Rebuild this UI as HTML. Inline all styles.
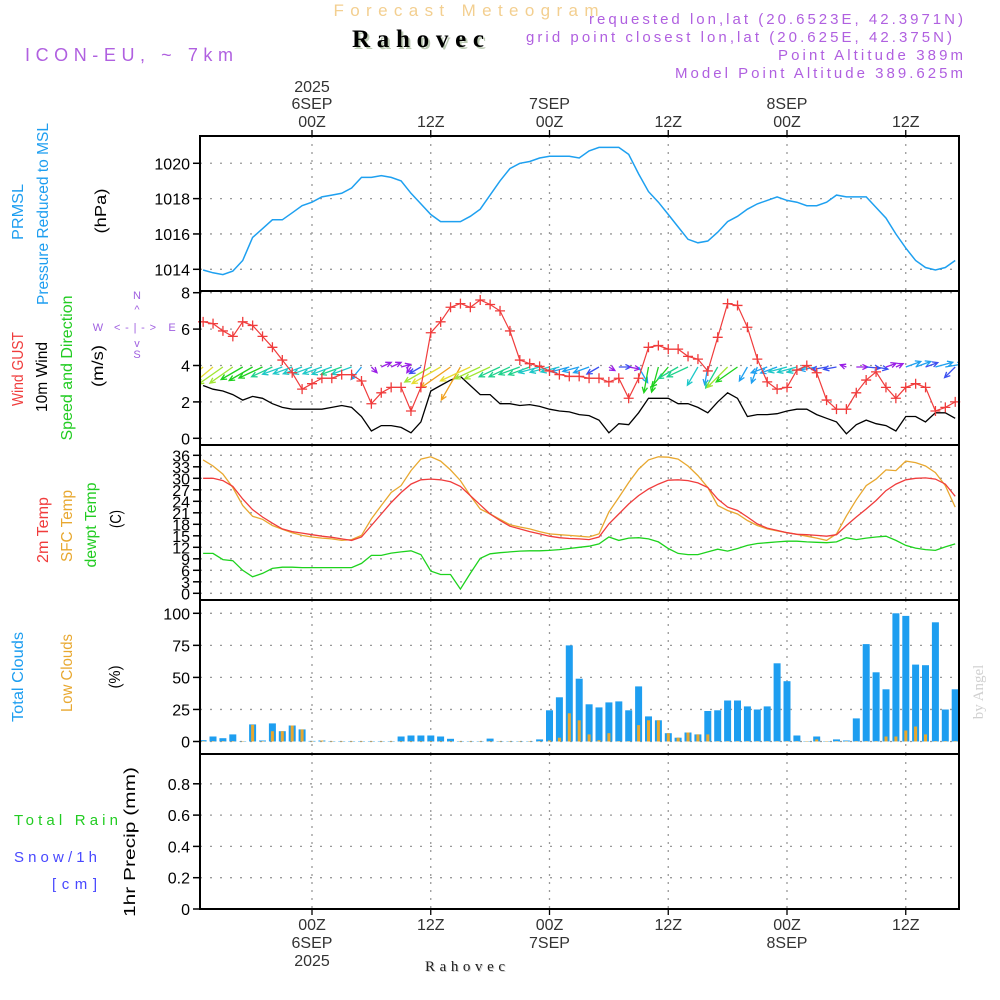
<!DOCTYPE html>
<html><head><meta charset="utf-8"><title>Meteogram Rahovec</title>
<style>
html,body{margin:0;padding:0;background:#fff;}
svg{display:block;font-family:"Liberation Sans",sans-serif;}
</style></head>
<body>
<svg id="chart" width="1000" height="1000" viewBox="0 0 1000 1000" xmlns="http://www.w3.org/2000/svg">
<rect x="0" y="0" width="1000" height="1000" fill="#fff"/>
<text x="466" y="16" text-anchor="middle" font-size="17" fill="#f3cf90" textLength="265" lengthAdjust="spacing">Forecast Meteogram</text>
<text x="420" y="49" text-anchor="middle" font-size="25" font-weight="bold" font-family="Liberation Serif, serif" fill="#bccab4" textLength="132" lengthAdjust="spacing">Rahovec</text>
<text x="418" y="47" text-anchor="middle" font-size="25" font-weight="bold" font-family="Liberation Serif, serif" fill="#000" textLength="132" lengthAdjust="spacing">Rahovec</text>
<text x="25" y="61" font-size="18" fill="#b060e0" textLength="208" lengthAdjust="spacing">ICON-EU, ~ 7km</text>
<g font-size="15" fill="#b060e0" text-anchor="end">
<text x="963" y="24" textLength="374" lengthAdjust="spacing">requested lon,lat (20.6523E, 42.3971N)</text>
<text x="952" y="42" textLength="426" lengthAdjust="spacing">grid point closest lon,lat (20.625E, 42.375N)</text>
<text x="963" y="60" textLength="185" lengthAdjust="spacing">Point Altitude 389m</text>
<text x="963" y="78" textLength="288" lengthAdjust="spacing">Model Point Altitude 389.625m</text>
</g>
<g font-size="16">
<text transform="translate(23,212) rotate(-90)" text-anchor="middle" fill="#1e9ef0" textLength="56" lengthAdjust="spacingAndGlyphs">PRMSL</text>
<text transform="translate(48,214) rotate(-90)" text-anchor="middle" fill="#1e9ef0" textLength="182" lengthAdjust="spacingAndGlyphs">Pressure Reduced to MSL</text>
<text transform="translate(106,211) rotate(-90)" text-anchor="middle" fill="#000" textLength="45" lengthAdjust="spacingAndGlyphs">(hPa)</text>
<text transform="translate(23,369) rotate(-90)" text-anchor="middle" fill="#f03c3c" textLength="74" lengthAdjust="spacingAndGlyphs">Wind GUST</text>
<text transform="translate(47,377) rotate(-90)" text-anchor="middle" fill="#000" textLength="70" lengthAdjust="spacingAndGlyphs">10m Wind</text>
<text transform="translate(72,368) rotate(-90)" text-anchor="middle" fill="#22cc22" textLength="145" lengthAdjust="spacingAndGlyphs">Speed and Direction</text>
<text transform="translate(103,366) rotate(-90)" text-anchor="middle" fill="#000" textLength="42" lengthAdjust="spacingAndGlyphs">(m/s)</text>
<text transform="translate(48,530) rotate(-90)" text-anchor="middle" fill="#f03c3c" textLength="66" lengthAdjust="spacingAndGlyphs">2m Temp</text>
<text transform="translate(72,526) rotate(-90)" text-anchor="middle" fill="#e8a830" textLength="72" lengthAdjust="spacingAndGlyphs">SFC Temp</text>
<text transform="translate(96,525) rotate(-90)" text-anchor="middle" fill="#22cc22" textLength="85" lengthAdjust="spacingAndGlyphs">dewpt Temp</text>
<text transform="translate(121,519) rotate(-90)" text-anchor="middle" fill="#000" textLength="18" lengthAdjust="spacingAndGlyphs">(C)</text>
<text transform="translate(23,677) rotate(-90)" text-anchor="middle" fill="#1e9ef0" textLength="90" lengthAdjust="spacingAndGlyphs">Total Clouds</text>
<text transform="translate(72,673) rotate(-90)" text-anchor="middle" fill="#e8a830" textLength="78" lengthAdjust="spacingAndGlyphs">Low Clouds</text>
<text transform="translate(120,677) rotate(-90)" text-anchor="middle" fill="#000" textLength="23" lengthAdjust="spacingAndGlyphs">(%)</text>
<text transform="translate(135,842) rotate(-90)" text-anchor="middle" fill="#000" font-size="16" textLength="150" lengthAdjust="spacingAndGlyphs">1hr Precip (mm)</text>
<text x="14" y="825" fill="#22cc22" font-size="15" textLength="104" lengthAdjust="spacing">Total  Rain</text>
<text x="14" y="862" fill="#4848ff" font-size="15" textLength="83" lengthAdjust="spacing">Snow/1h</text>
<text x="52" y="889" fill="#4848ff" font-size="15" textLength="45" lengthAdjust="spacing">[cm]</text>
</g>
<g fill="#a060e0" font-size="11" text-anchor="middle">
<text x="137" y="299">N</text>
<text x="137" y="358">S</text>
<text x="98" y="331">W</text>
<text x="172" y="331">E</text>
<text x="135" y="331" textLength="42" lengthAdjust="spacing">&lt;-|-&gt;</text>
<text x="137" y="313">^</text>
<text x="137" y="347">v</text>
</g>
<text transform="translate(983,692) rotate(-90)" text-anchor="middle" font-family="Liberation Serif, serif" font-size="15" fill="#d0d0d0">by Angel</text>
<text x="466" y="972" text-anchor="middle" font-family="Liberation Serif, serif" font-size="15" fill="#ccc" textLength="80" lengthAdjust="spacing">Rahovec</text>
<text x="465" y="971" text-anchor="middle" font-family="Liberation Serif, serif" font-size="15" fill="#222" textLength="80" lengthAdjust="spacing">Rahovec</text>
<g id="plot"></g>
</svg>
<script>
// ---- data (hourly, starting at hour -11 relative to 00Z 6SEP) ----
const startHour = -11;
const pressure = [1013.96,1013.8,1013.7,1013.9,1014.5,1015.8,1016.3,1016.8,1016.8,1017.2,
1017.6,1017.8,1018.1,1018.2,1018.3,1018.6,1019.2,1019.2,1019.3,1019.2,
1019.0,1018.3,1017.7,1017.1,1016.7,1016.7,1016.7,1017.0,1017.4,1018.2,
1019.0,1019.7,1020.0,1020.1,1020.3,1020.4,1020.4,1020.4,1020.3,
1020.7,1020.9,1020.9,1020.9,1020.5,1019.4,1018.4,1017.8,1017.1,1016.4,
1015.7,1015.5,1015.6,1016.1,1016.7,1017.0,1017.4,1017.7,1017.9,1018.1,
1017.9,1017.8,1017.6,1017.6,1017.8,1018.2,1018.1,1018.1,1018.1,1017.5,
1016.9,1016.0,1015.2,1014.5,1014.1,1013.96,1014.1,1014.5];
const windSpeed = [2.9,2.7,2.6,2.4,2.1,2.3,2.2,1.9,1.7,1.6,
1.6,1.6,1.6,1.7,1.8,1.7,1.2,0.4,0.7,0.7,
0.6,0.3,0.9,2.6,2.9,3.2,3.4,2.9,2.4,2.4,
1.9,1.9,1.8,1.85,1.75,1.6,1.5,1.45,1.3,
1.25,1.0,0.3,0.8,0.75,1.4,2.2,2.2,2.2,1.9,
1.9,1.7,1.4,2.0,2.5,2.2,1.2,1.3,1.3,1.35,
1.5,1.6,1.6,1.3,1.1,0.9,0.25,0.75,1.0,0.8,
0.7,0.4,1.2,1.2,0.9,1.4,1.4,1.1];
const windGust = [6.4,6.3,5.9,5.6,6.4,6.2,5.6,5.0,4.3,3.6,
2.7,3.0,3.3,3.3,3.5,3.5,3.15,1.9,2.5,2.8,
2.8,1.5,2.8,5.8,6.4,7.2,7.4,7.2,7.6,7.35,
7.0,5.9,4.3,4.1,3.95,3.7,3.5,3.4,3.4,
3.3,3.3,3.1,3.3,2.2,3.3,5.0,5.1,4.9,4.9,
4.5,4.35,3.7,5.55,7.4,7.3,6.1,4.35,3.1,2.7,
2.8,3.75,4.0,3.6,2.1,1.6,1.6,2.5,3.2,3.65,
2.8,2.2,2.8,3.0,2.8,1.5,1.7,2.0];
const windDir = [140,140,145,145,150,150,155,155,160,160,
160,160,160,160,160,160,130,45,-25,-25,
-15,125,150,150,150,145,120,155,155,155,
155,155,160,160,165,165,165,165,165,
160,150,30,0,10,60,100,105,130,150,
155,120,100,120,135,145,120,110,160,160,
165,165,165,170,170,170,200,0,5,10,
-20,-25,-20,-20,-20,-15,-10,135];
const temp2m = [30.0,30.0,29.4,27.9,24.6,21.8,19.9,18.3,16.8,16.1,
15.7,15.3,14.9,14.6,14.2,13.8,14.7,17.7,20.7,23.7,
26.3,28.5,29.6,29.8,29.6,29.1,27.9,25.5,23.1,20.7,
19.0,17.5,16.8,16.1,15.5,14.9,14.5,14.3,14.2,14.0,
14.7,18.1,20.7,23.3,25.5,27.2,28.5,29.5,29.6,29.4,
28.8,27.6,24.6,22.5,21.6,19.9,18.1,17.0,16.4,15.8,
15.4,15.3,15.1,14.9,15.3,17.7,19.9,22.0,24.2,26.8,
28.5,29.6,30.0,30.1,29.8,28.5,25.3];
const tempSfc = [34.8,33.2,31.1,27.6,22.9,20.1,19.3,17.7,16.7,15.8,
15.1,14.7,14.4,14.2,13.8,14.0,15.1,19.4,22.9,26.3,
28.1,32.0,35.0,35.6,34.5,32.2,29.4,25.5,22.0,20.7,
19.3,17.9,17.3,16.8,16.1,15.5,15.3,15.1,14.9,14.7,
15.5,21.2,25.0,28.9,32.4,34.8,35.6,35.5,35.0,33.2,
30.7,27.6,22.9,21.6,20.7,19.0,17.7,16.8,16.3,15.8,
15.4,14.9,14.4,13.8,15.5,20.2,24.4,28.1,29.8,32.2,
32.0,34.5,34.1,33.2,31.5,28.1,22.5];
const dewpoint = [10.4,10.4,8.8,8.5,6.0,4.3,5.2,6.5,6.8,6.8,
6.7,6.7,6.7,6.7,6.7,6.7,7.8,9.9,9.9,10.5,
10.8,11.1,10.1,5.8,4.9,4.9,1.1,5.2,9.1,10.3,
10.6,10.8,11.0,11.1,11.1,11.2,11.4,11.7,12.0,12.3,
12.9,14.7,13.8,14.4,14.5,14.2,13.4,11.7,10.4,10.1,
10.1,10.8,11.5,11.0,11.7,12.5,13.0,13.2,13.4,13.6,
13.6,13.4,13.3,13.2,13.4,14.5,14.0,14.4,14.7,14.9,
13.8,12.5,11.8,11.4,11.2,12.1,12.9];
const totalClouds = [1.0,3.9,2.6,5.5,0.3,13.3,0.8,14.1,8,12.5,
9.4,0.5,0.8,0.3,0.3,0.3,0.3,0.3,0.3,0.3,
3.9,4.7,4.7,4.7,3.9,2.1,0.3,0.3,0.3,2.3,
0.3,0.3,0.3,0.3,1.6,24.3,34.5,75,49,29,
26.6,30.5,31.3,24.3,43,19.6,16.5,6.5,3,7,
5.5,23.8,24.3,32,32,27.4,25,27.4,61,47,
4.7,0.3,3.9,0.3,1.6,0.8,18,76,54,40.7,
100,98,60,59.5,93,25,40.7];
const lowClouds = [0.3,0.3,0.3,0.3,0.3,13,0.3,8,8,12.5,
9.4,0.3,0.8,0.3,0.3,0.3,0.3,0.3,0.3,0.3,
0.3,0.3,0.3,0.3,0.3,0.3,0.3,0.3,0.3,0.3,
0.3,0.3,0.3,0.3,0.3,0.8,3,22,16.5,5.5,
1,6.5,0.3,0.3,12.8,16.5,16.5,6.5,3,7,
5.5,5.5,0.3,0.3,0.3,0.3,0.3,0.3,0.3,0.3,
0.3,0.3,1.6,0.3,0.3,0.3,0.3,0.3,0.3,3.9,
3.9,8.6,11.7,5.5,0.3,0.3,0.3];
const precip = [0,0,0,0,0,0,0,0,0,0,0,0,0,0,0,0,0,0,0,0,0,0,0,0,0,0,0,0,0,0,0,0,0,0,0,0,0,0,0,0,0,0,0,0,0,0,0,0,0,0,0,0,0,0,0,0,0,0,0,0,0,0,0,0,0,0,0,0,0,0,0,0,0,0,0,0,0];
const pressTicks = [1014,1016,1018,1020];
const windTicks = [0,2,4,6,8];
const tempTicks = [0,3,6,9,12,15,18,21,24,27,30,33,36];
const cloudTicks = [0,25,50,75,100];
const precTicks = [0,0.2,0.4,0.6,0.8];
const timeTickHours = [0,12,24,36,48,60];
const timeTickLabels = ["00Z","12Z","00Z","12Z","00Z","12Z"];
const dateLabels = [[0,"6SEP","2025"],[24,"7SEP",""],[48,"8SEP",""]];

// ---- scales ----
const L = 200, R = 959;
const xS = h => 312 + h * 118.75 / 12;
const pressY = v => 269.3 - (v - 1014) * 17.67;
const windY = v => 438.3 - v * 18.2;
const tempY = v => 593.3 - v * 3.833;
const cloudY = v => 741.5 - v * 1.282;
const precY = v => 909 - v * 156.5;
const panels = [
  {name:'pressure', top:136, bot:291, ticks:pressTicks, y:pressY, fmt:v=>String(v)},
  {name:'wind', top:291, bot:445, ticks:windTicks, y:windY, fmt:v=>String(v)},
  {name:'temperature', top:445, bot:600, ticks:tempTicks, y:tempY, fmt:v=>String(v)},
  {name:'clouds', top:600, bot:754, ticks:cloudTicks, y:cloudY, fmt:v=>String(v)},
  {name:'precip', top:754, bot:909, ticks:precTicks, y:precY, fmt:v=>String(v)}
];

const NS = 'http://www.w3.org/2000/svg';
const plot = document.getElementById('plot');
function mk(tag, attrs, parent) {
  const e = document.createElementNS(NS, tag);
  for (const k in attrs) e.setAttribute(k, attrs[k]);
  (parent || plot).appendChild(e);
  return e;
}
const hourOf = i => startHour + i;

const defs = mk('defs', {});
const cp = mk('clipPath', {id:'clipPlot'}, defs);
mk('rect', {x:L, y:136, width:R-L, height:773}, cp);

panels.forEach(p => {
  const g = mk('g', {});
  
  
  p.ticks.forEach(t => {
    const y = p.y(t);
    const gl = mk('line', {x1:L, x2:R, y1:y, y2:y, stroke:'#999', 'stroke-width':1.3, 'stroke-dasharray':'2 8'}, g);
    
    
    const tk = mk('line', {x1:193, x2:L, y1:y, y2:y, stroke:'#000', 'stroke-width':1.5}, g);
    
    
    const tl = mk('text', {x:190, y:y + 6, 'text-anchor':'end', 'font-size':16, fill:'#000'}, g);
    tl.textContent = p.fmt(t);
    
    
  });
  timeTickHours.forEach(h => {
    const x = xS(h);
    const vl = mk('line', {x1:x, x2:x, y1:p.top, y2:p.bot, stroke:'#999', 'stroke-width':1.3, 'stroke-dasharray':'2 6'}, g);
    
    
  });
});

const pressPts = pressure.map((v, i) => xS(hourOf(i)).toFixed(1) + ',' + pressY(v).toFixed(1)).join(' ');
const pl = mk('polyline', {points:pressPts, fill:'none', stroke:'#1ea0f0', 'stroke-width':1.5, 'clip-path':'url(#clipPlot)'});



const wsPts = windSpeed.map((v, i) => xS(hourOf(i)).toFixed(1) + ',' + windY(v).toFixed(1)).join(' ');
const wl = mk('polyline', {points:wsPts, fill:'none', stroke:'#000', 'stroke-width':1.3});



function speedColor(s) {
  if (s < 0.8) return '#9a1ee6';
  if (s < 1.2) return '#3c50f0';
  if (s < 1.5) return '#1ea0f0';
  if (s < 1.8) return '#1ec8c8';
  if (s < 2.1) return '#1ed28c';
  if (s < 2.4) return '#1ed21e';
  if (s < 2.7) return '#a0e632';
  if (s < 3.0) return '#e6dc32';
  return '#f0a01e';
}
const arrowG = mk('g', {'clip-path':'url(#clipPlot)'});


windDir.forEach((d, i) => {
  const s = windSpeed[i];
  const x0 = xS(hourOf(i)), y0 = 367;
  const len = Math.max(5, s * 10 + 4);
  const a = d * Math.PI / 180;
  const x1 = x0 + Math.cos(a) * len, y1 = y0 + Math.sin(a) * len;
  const col = speedColor(s);
  const ah = 6, sp = 0.45;
  const p = `M${x0.toFixed(1)},${y0} L${x1.toFixed(1)},${y1.toFixed(1)} M${(x1 - Math.cos(a - sp) * ah).toFixed(1)},${(y1 - Math.sin(a - sp) * ah).toFixed(1)} L${x1.toFixed(1)},${y1.toFixed(1)} L${(x1 - Math.cos(a + sp) * ah).toFixed(1)},${(y1 - Math.sin(a + sp) * ah).toFixed(1)}`;
  const ar = mk('path', {d:p, fill:'none', stroke:col, 'stroke-width':1.3}, arrowG);
  
  
});

const gPts = windGust.map((v, i) => xS(hourOf(i)).toFixed(1) + ',' + windY(v).toFixed(1)).join(' ');
const gl = mk('polyline', {points:gPts, fill:'none', stroke:'#f03c3c', 'stroke-width':1.2});


windGust.forEach((v, i) => {
  const x = xS(hourOf(i)), y = windY(v);
  const m = mk('path', {d:`M${x - 5},${y} H${x + 5} M${x},${y - 5} V${y + 5}`, stroke:'#f03c3c', 'stroke-width':1.3});
  
  
});

[[tempSfc, '#e8a830', 'sfc-temp-line'], [temp2m, '#f03c3c', 't2m-line'], [dewpoint, '#1ed21e', 'dewpoint-line']].forEach(([arr, col, nm]) => {
  const pts = arr.map((v, i) => xS(hourOf(i)).toFixed(1) + ',' + tempY(v).toFixed(1)).join(' ');
  const ln = mk('polyline', {points:pts, fill:'none', stroke:col, 'stroke-width':1.3});
  
  
});

const barG = mk('g', {'clip-path':'url(#clipPlot)'});


totalClouds.forEach((v, i) => {
  const x = xS(hourOf(i));
  const b = mk('rect', {x:(x - 3.5).toFixed(1), y:cloudY(v).toFixed(1), width:7, height:(cloudY(0) - cloudY(v)).toFixed(1), fill:'#1e9ef0'}, barG);
  
  
});
lowClouds.forEach((v, i) => {
  const x = xS(hourOf(i));
  const b = mk('rect', {x:(x - 1.5).toFixed(1), y:cloudY(v).toFixed(1), width:3, height:(cloudY(0) - cloudY(v)).toFixed(1), fill:'#e8a830'}, barG);
  
  
});

const prPts = precip.map((v, i) => xS(hourOf(i)).toFixed(1) + ',' + precY(v).toFixed(1)).join(' ');
const prl = mk('polyline', {points:prPts, fill:'none', stroke:'#000', 'stroke-width':1.2, 'stroke-dasharray':'5 3', 'clip-path':'url(#clipPlot)'});



panels.forEach(p => {
  const fr = mk('rect', {x:L, y:p.top, width:R - L, height:p.bot - p.top, fill:'none', stroke:'#000', 'stroke-width':2});
  
  
});

timeTickHours.forEach((h, i) => {
  const x = xS(h);
  const t1 = mk('line', {x1:x, x2:x, y1:130, y2:136, stroke:'#000', 'stroke-width':1.3});
  
  
  const t2 = mk('line', {x1:x, x2:x, y1:909, y2:915, stroke:'#000', 'stroke-width':1.3});
  
  
  const lt = mk('text', {x:x, y:127, 'text-anchor':'middle', 'font-size':16, fill:'#333'});
  lt.textContent = timeTickLabels[i];
  
  
  const lb = mk('text', {x:x, y:930, 'text-anchor':'middle', 'font-size':16, fill:'#333'});
  lb.textContent = timeTickLabels[i];
  
  
});
dateLabels.forEach(([h, d, yr]) => {
  const x = xS(h);
  const dt = mk('text', {x:x, y:109, 'text-anchor':'middle', 'font-size':16, fill:'#333'});
  dt.textContent = d;
  
  
  const db = mk('text', {x:x, y:948, 'text-anchor':'middle', 'font-size':16, fill:'#333'});
  db.textContent = d;
  
  
  if (yr) {
    const yt = mk('text', {x:x, y:92, 'text-anchor':'middle', 'font-size':16, fill:'#333'});
    yt.textContent = yr;
    
    
    const yb = mk('text', {x:x, y:966, 'text-anchor':'middle', 'font-size':16, fill:'#333'});
    yb.textContent = yr;
    
    
  }
});
</script>
</body></html>
